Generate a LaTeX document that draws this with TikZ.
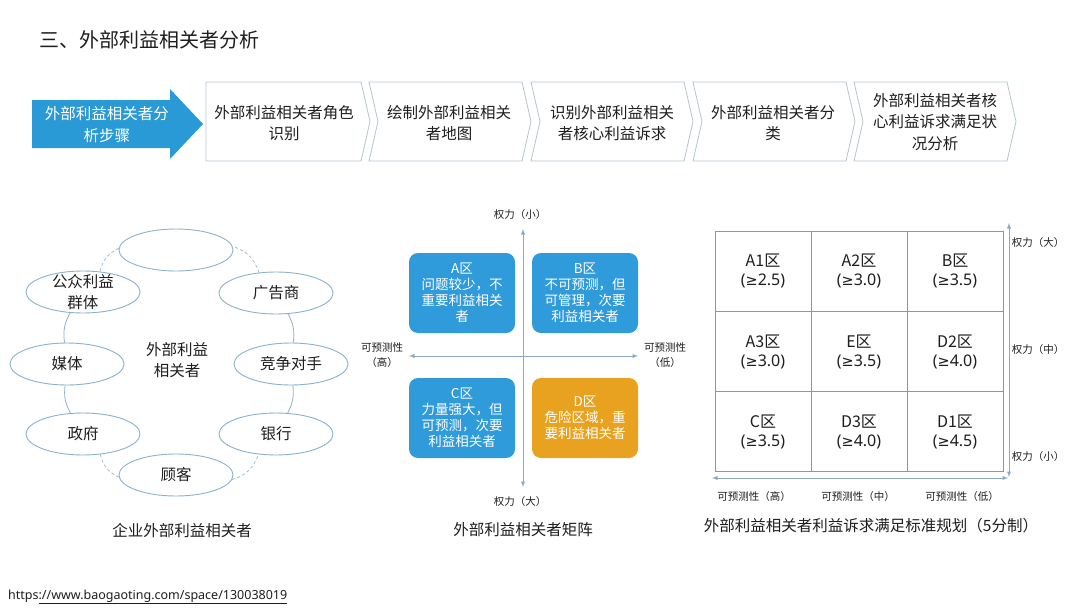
\documentclass[tikz,border=0pt]{standalone}
\usepackage{fontspec}
\setmainfont{Noto Sans CJK SC}
\newfontfamily\numfont{Noto Sans}
\newfontfamily\symfont{DejaVu Sans}
\newcommand{\atleast}{{\symfont\fontsize{14.5}{19}\selectfont ≥}}
\usepackage{xcolor}
\usepackage{tikz}
\usetikzlibrary{shapes,arrows}
\definecolor{stepblue}{HTML}{2A9AD7}
\definecolor{zoneblue}{HTML}{2F9BDB}
\definecolor{zoneorange}{HTML}{E9A21F}
\definecolor{rim}{HTML}{8DB2CA}
\definecolor{axisgray}{HTML}{8EA7C4}
\definecolor{gridline}{HTML}{5EA7C4}
\definecolor{chevron}{HTML}{B3C5CF}
\definecolor{ink}{HTML}{1E1E1E}

\begin{document}
\begin{tikzpicture}[x=1pt,y=-1pt]
\tikzstyle{stake} = [ellipse,draw=rim,fill=white,line width=0.9pt,minimum width=114pt,minimum height=42pt,inner sep=0pt,font=\fontsize{15.5}{21}\selectfont,text=ink];
\tikzstyle{ring} = [draw=rim,line width=0.8pt];
\tikzstyle{ringdash} = [draw=rim!85,line width=0.8pt,dash pattern=on 3pt off 2.5pt];
\tikzstyle{zone} = [rounded corners=9pt,minimum width=106pt,minimum height=80pt,align=center,text=white,font=\fontsize{13.5}{16}\selectfont];
\tikzstyle{cell} = [draw=gridline,line width=1pt,minimum width=96pt,minimum height=80.33pt,align=center,font=\fontsize{16}{19}\selectfont,text=ink];
\tikzstyle{small} = [font=\fontsize{10.5}{15}\selectfont,text=ink,align=center];
\tikzstyle{caption} = [font=\fontsize{15.5}{21}\selectfont,text=ink,align=center];
\tikzstyle{steptext} = [font=\fontsize{15.5}{21.5}\selectfont,text=ink,align=center];
\tikzstyle{chev} = [draw=chevron,fill=white,line width=0.8pt];
\tikzstyle{axis} = [draw=axisgray,line width=0.9pt,latex-latex];

\useasboundingbox[fill=white] (0,0) rectangle (1080,608);

\node[anchor=west,font=\fontsize{20}{24}\selectfont,text=ink] (title) at (36,40) {三、外部利益相关者分析};

% steps
\draw[fill=stepblue,draw=none] (32,100) -- (170,100) -- (170,89) -- (203,124) -- (170,159) -- (170,148) -- (32,148) -- cycle;
\node[steptext,text=white] (s0) at (107,124.5) {外部利益相关者分\\析步骤};
\draw[chev] (206,82) -- (361,82) -- (370,121.5) -- (361,161) -- (206,161) -- cycle;
\draw[chev] (369,82) -- (522,82) -- (531,121.5) -- (522,161) -- (369,161) -- (378,121.5) -- cycle;
\draw[chev] (531,82) -- (684,82) -- (693,121.5) -- (684,161) -- (531,161) -- (540,121.5) -- cycle;
\draw[chev] (693,82) -- (846,82) -- (855,121.5) -- (846,161) -- (693,161) -- (702,121.5) -- cycle;
\draw[chev] (854,82) -- (1007,82) -- (1016,121.5) -- (1007,161) -- (854,161) -- (863,121.5) -- cycle;
\node[steptext] (s1) at (284,123) {外部利益相关者角色\\识别};
\node[steptext] (s2) at (449,123) {绘制外部利益相关\\者地图};
\node[steptext] (s3) at (612,123) {识别外部利益相关\\者核心利益诉求};
\node[steptext] (s4) at (773,123) {外部利益相关者分\\类};
\node[steptext] (s5) at (935,122) {外部利益相关者核\\心利益诉求满足状\\况分析};

% stakeholder ring
\node[stake] (e0) at (176,250) {};
\node[stake,label={[caption]center:公众利益\\群体}] (e1) at (83,292) {};
\node[stake] (e2) at (67,364) {媒体};
\node[stake] (e3) at (83,434) {政府};
\node[stake] (e4) at (176,475) {顾客};
\node[stake] (e5) at (276,434) {银行};
\node[stake] (e6) at (291,364) {竞争对手};
\node[stake] (e7) at (276,293) {广告商};
\draw[ringdash] (e0) to[bend right=26] (e1);
\draw[ring] (e1) to[bend right=19] (e2);
\draw[ring] (e2) to[bend right=18] (e3);
\draw[ringdash] (e3) to[bend right=26] (e4);
\draw[ringdash] (e4) to[bend right=27] (e5);
\draw[ring] (e5) to[bend right=17] (e6);
\draw[ring] (e6) to[bend right=18] (e7);
\draw[ringdash] (e7) to[bend right=27] (e0);
\node[caption] (core) at (177,360) {外部利益\\相关者};
\node[caption] (cap1) at (182,531) {企业外部利益相关者};

% matrix
\coordinate (mt) at (523,229);
\coordinate (mb) at (523,487);
\coordinate (ml) at (409,356);
\coordinate (mr) at (638,356);
\draw[axis] (mt) -- (mb);
\draw[axis] (ml) -- (mr);
\node[zone,fill=zoneblue] (zA) at (462,293) {A区\\问题较少，不\\重要利益相关\\者};
\node[zone,fill=zoneblue] (zB) at (585,293) {B区\\不可预测，但\\可管理，次要\\利益相关者};
\node[zone,fill=zoneblue] (zC) at (462,418) {C区\\力量强大，但\\可预测，次要\\利益相关者};
\node[zone,fill=zoneorange] (zD) at (585,418) {D区\\危险区域，重\\要利益相关者};
\node[small] (pt) at (520,215) {权力（小）};
\node[small] (pb) at (520,502) {权力（大）};
\node[small] (pl) at (382,355.5) {可预测性\\（高）};
\node[small] (pr) at (665,355.5) {可预测性\\（低）};
\node[caption] (cap2) at (523,530) {外部利益相关者矩阵};

% grid
\node[cell] (g11) at (763,271.2) {A1区\\{\numfont(\atleast2.5)}};
\node[cell] (g12) at (859,271.2) {A2区\\{\numfont(\atleast3.0)}};
\node[cell] (g13) at (955,271.2) {B区\\{\numfont(\atleast3.5)}};
\node[cell] (g21) at (763,351.5) {A3区\\{\numfont(\atleast3.0)}};
\node[cell] (g22) at (859,351.5) {E区\\{\numfont(\atleast3.5)}};
\node[cell] (g23) at (955,351.5) {D2区\\{\numfont(\atleast4.0)}};
\node[cell] (g31) at (763,431.8) {C区\\{\numfont(\atleast3.5)}};
\node[cell] (g32) at (859,431.8) {D3区\\{\numfont(\atleast4.0)}};
\node[cell] (g33) at (955,431.8) {D1区\\{\numfont(\atleast4.5)}};
\coordinate (gt) at (1009,223);
\coordinate (gb) at (1009,477);
\coordinate (gl) at (712,478);
\coordinate (gr) at (1008,478);
\draw[axis] (gt) -- (gb);
\draw[axis] (gl) -- (gr);
\node[small] (pbig) at (1038,243) {权力（大）};
\node[small] (pmid) at (1038,350) {权力（中）};
\node[small] (psml) at (1038,457) {权力（小）};
\node[small] (qhi) at (754,497) {可预测性（高）};
\node[small] (qmid) at (858,497) {可预测性（中）};
\node[small] (qlo) at (962,497) {可预测性（低）};
\node[caption] (cap3) at (871,526) {外部利益相关者利益诉求满足标准规划（5分制）};

\node[anchor=west,inner sep=0pt,font=\numfont\fontsize{12.5}{15}\selectfont,text=ink] (url) at (8,597) {https\underline{://www.baogaoting.com/space/130038019}};
\end{tikzpicture}
\end{document}
